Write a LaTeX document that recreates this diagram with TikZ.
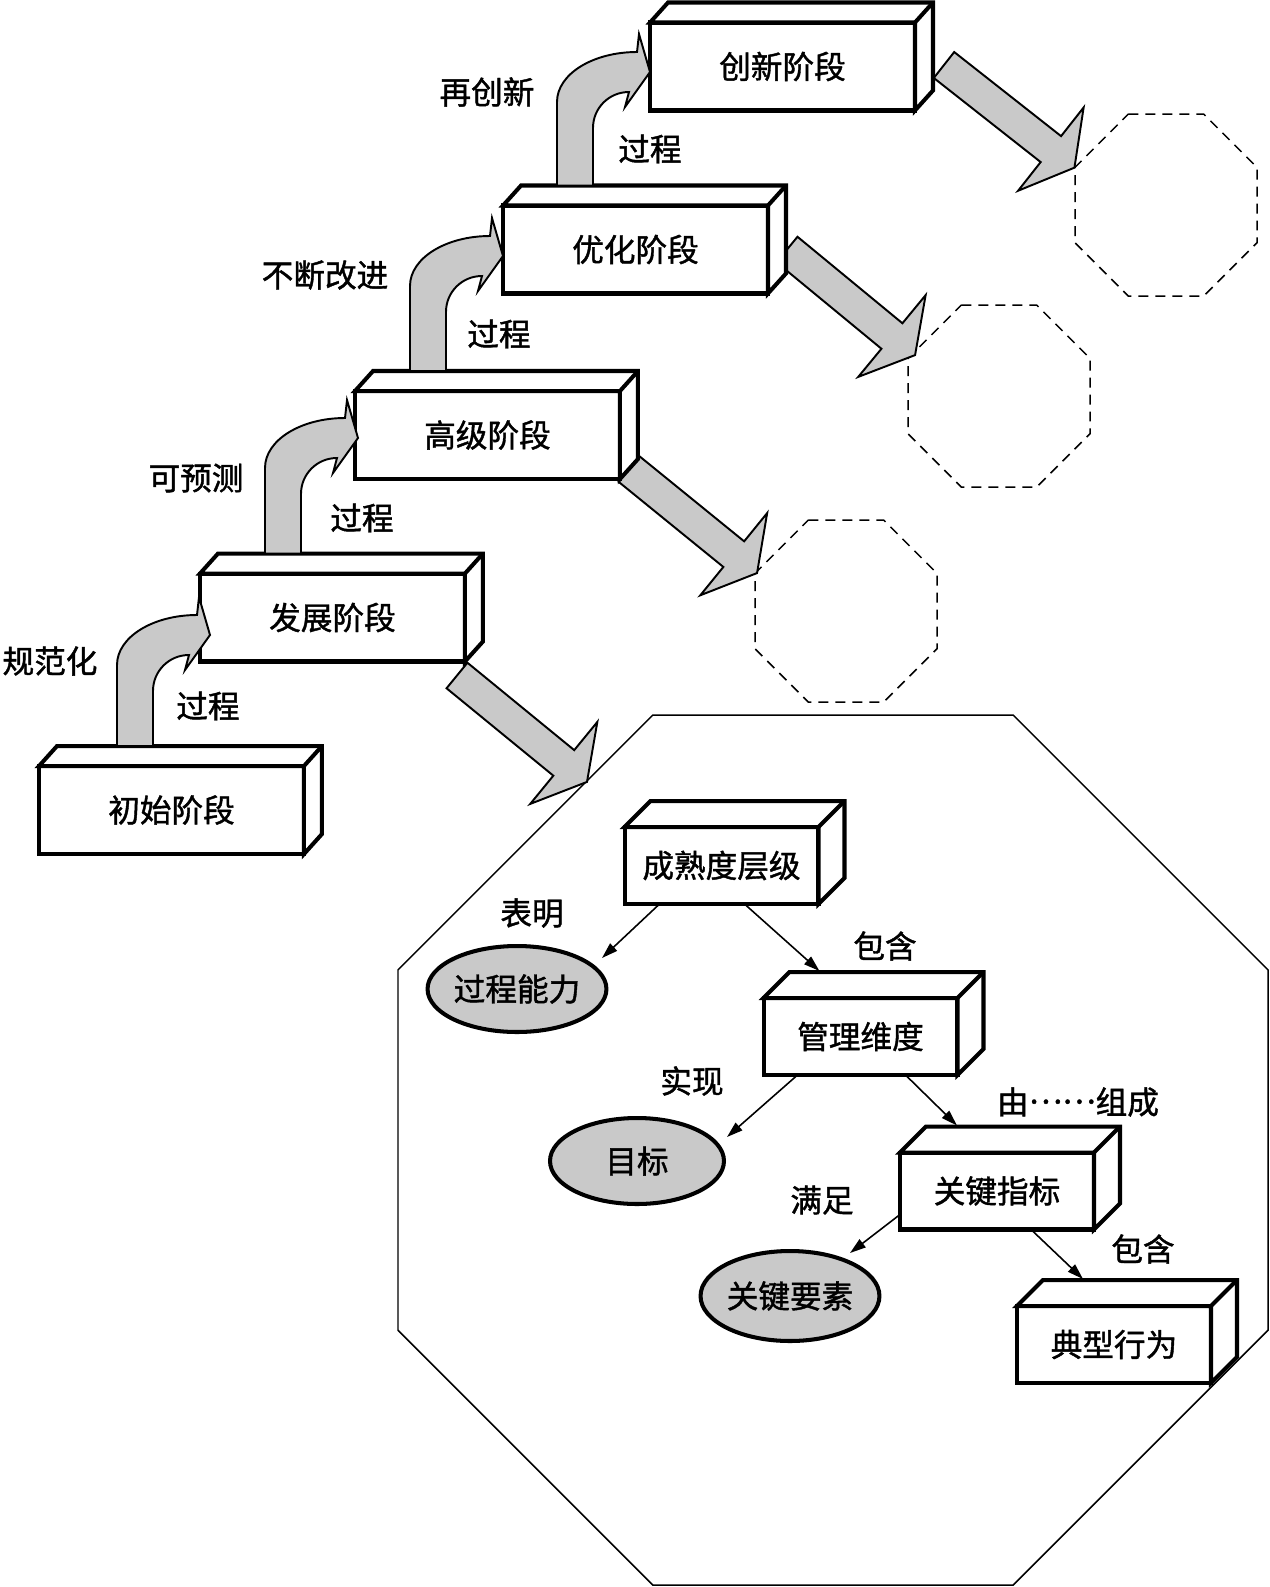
\documentclass[tikz,border=0pt]{standalone}
\usepackage{fontspec}
\setmainfont{Noto Sans CJK SC}[AutoFakeBold=1.3]
\usetikzlibrary{calc,arrows.meta,shapes.geometric}
\definecolor{garr}{gray}{0.79}
\newcommand{\myfont}{\fontsize{18pt}{20pt}\selectfont\bfseries}
% 3D faces of a box node: node name, dx, dy
\newcommand{\faces}[3]{%
  \filldraw[fill=white,line width=2.3pt] (#1.north west) -- ++(#2,#3) -- ($(#1.north east)+(#2,#3)$) -- ($(#1.south east)+(#2,#3)$) -- (#1.south east) -- (#1.north east) -- cycle;
  \draw[line width=2.3pt] (#1.north east) -- ++(#2,#3);}
% curved block arrow: shaft left x, band top y, shaft bottom y
\newcommand{\carrow}[3]{%
  \filldraw[garrow] (#1,#3) -- (#1,{#2+50}) .. controls (#1,{#2+22}) and ({#1+36},#2) .. ({#1+80},#2) -- ({#1+82},{#2-18}) -- ({#1+93},{#2+20}) -- ({#1+68},{#2+55}) -- ({#1+72},{#2+40}) .. controls ({#1+52},{#2+40}) and ({#1+36},{#2+56}) .. ({#1+36},{#2+76}) -- ({#1+36},#3) -- cycle;}
% straight block arrow: start x, start y, angle, length
\newcommand{\darrow}[4]{%
  \begin{scope}[shift={(#1,#2)},rotate=-#3]
  \filldraw[garrow] (0,-16.5) -- ({#4-30},-16.5) -- ({#4-30},-53) -- (#4,0) -- ({#4-30},53) -- ({#4-30},16.5) -- (0,16.5) -- cycle;
  \end{scope}}
% octagon with flat top: cx, cy, apothem, style
\newcommand{\octa}[4]{%
  \draw[#4] ({#1-0.41421*#3},{#2-#3}) -- ({#1+0.41421*#3},{#2-#3}) -- ({#1+#3},{#2-0.41421*#3}) -- ({#1+#3},{#2+0.41421*#3}) -- ({#1+0.41421*#3},{#2+#3}) -- ({#1-0.41421*#3},{#2+#3}) -- ({#1-#3},{#2+0.41421*#3}) -- ({#1-#3},{#2-0.41421*#3}) -- cycle;}
\begin{document}
\begin{tikzpicture}[x=0.02cm,y=-0.02cm,
  stage/.style={draw,line width=2.3pt,fill=white,minimum width=5.3cm,minimum height=1.76cm,inner sep=0pt,outer sep=0pt,font=\myfont},
  ibox/.style={draw,line width=2.3pt,fill=white,minimum width=3.88cm,minimum height=1.54cm,inner sep=0pt,outer sep=0pt,font=\myfont},
  ell/.style={ellipse,draw,line width=2.3pt,fill=garr,minimum width=3.48cm,minimum height=1.72cm,inner sep=0pt,font=\myfont},
  lab/.style={font=\myfont,inner sep=0pt},
  garrow/.style={fill=garr,draw=black,line width=1.1pt,line join=miter},
  thinarr/.style={line width=0.9pt,-{Triangle[length=0.32cm,width=0.2cm]}},
  dashoct/.style={line width=0.85pt,dash pattern=on 0.2cm off 0.14cm},
  bigoct/.style={line width=0.85pt}]
\fill[white] (0,0) rectangle (1270,1587);
\useasboundingbox (0,0) rectangle (1270,1587);

% octagons
\octa{833}{1150}{435}{bigoct}
\octa{846}{611}{91}{dashoct}
\octa{999}{396}{91}{dashoct}
\octa{1166}{205}{91}{dashoct}

% straight gray arrows
\darrow{457}{675.5}{39.3}{168}
\darrow{629}{469}{39.1}{165}
\darrow{787}{249.5}{39.5}{166}
\darrow{944}{65}{38.2}{166}

% stage boxes
\node[stage] (s1) at (171.5,810) {初始阶段}; \faces{s1}{18}{-20}
\node[stage] (s2) at (332.5,617.5) {发展阶段}; \faces{s2}{18}{-20}
\node[stage] (s3) at (487.5,435) {高级阶段}; \faces{s3}{18}{-20}
\node[stage] (s4) at (635.5,249.5) {优化阶段}; \faces{s4}{18}{-20}
\node[stage] (s5) at (782.5,66.5) {创新阶段}; \faces{s5}{18}{-20}

% curved arrows
\carrow{117}{615}{746}
\carrow{265}{418}{553.5}
\carrow{410}{236}{371}
\carrow{557}{52}{185.5}

% stage labels
\node[lab] (t1) at (50,661) {规范化};
\node[lab] (t2) at (208,706) {过程};
\node[lab] (t3) at (196,478) {可预测};
\node[lab] (t4) at (362,518) {过程};
\node[lab] (t5) at (325,275) {不断改进};
\node[lab] (t6) at (499,334) {过程};
\node[lab] (t7) at (487,92) {再创新};
\node[lab] (t8) at (650,149) {过程};

% inner diagram
\node[ibox] (c1) at (721.5,865.5) {成熟度层级}; \faces{c1}{26}{-26}
\node[ibox] (m1) at (860.5,1036.5) {管理维度}; \faces{m1}{26}{-26}
\node[ibox] (k1) at (997,1191) {关键指标}; \faces{k1}{26}{-26}
\node[ibox] (d1) at (1114,1344.5) {典型行为}; \faces{d1}{26}{-26}
\node[ell] (e1) at (517,989) {过程能力};
\node[ell] (e2) at (637,1161) {目标};
\node[ell,minimum height=1.8cm] (e3) at (790,1296) {关键要素};

\draw[thinarr] ($(c1.south west)+(35,0)$) -- ($(e1.center)+(85,-31)$);
\draw[thinarr] ($(c1.south west)+(120,0)$) -- ($(m1.north west)+(56,-27)$);
\draw[thinarr] ($(m1.south west)+(34,0)$) -- ($(e2.center)+(90,-24)$);
\draw[thinarr] ($(m1.south west)+(142,0)$) -- ($(k1.north west)+(57,-27)$);
\draw[thinarr] ($(k1.south west)+(0,-15)$) -- ($(e3.center)+(60,-43)$);
\draw[thinarr] ($(k1.south west)+(131,0)$) -- ($(d1.north west)+(66,-27)$);

\node[lab] (t9) at (532,913) {表明};
\node[lab] (t10) at (885,946) {包含};
\node[lab] (t11) at (692,1081) {实现};
\node[lab] (t12) at (1078,1102) {由\raisebox{0.33em}{……}组成};
\node[lab] (t13) at (822,1200) {满足};
\node[lab] (t14) at (1143,1249) {包含};
\end{tikzpicture}
\end{document}
